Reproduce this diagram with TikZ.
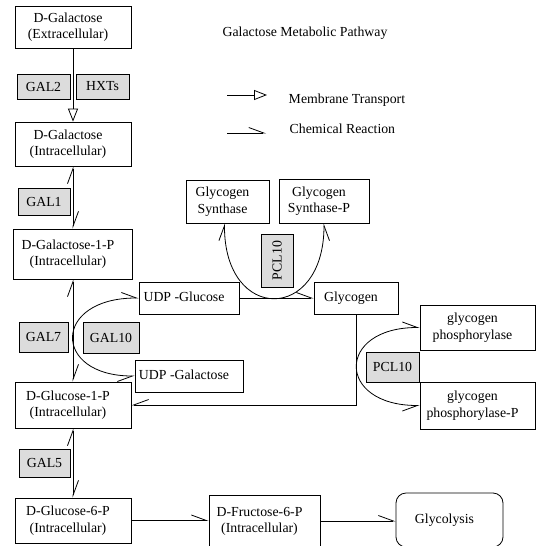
\documentclass[tikz,border=0pt]{standalone}
\usepackage{fontspec}
\setmainfont{Liberation Serif}
\usepackage{tikz}
\usetikzlibrary{arrows.meta,positioning}
\definecolor{enzgray}{HTML}{dcdcdc}
% molecule text, set a little left of the box centre
\newcommand{\molt}[1]{\begin{tabular}{@{}c@{}}#1\end{tabular}\hspace*{10pt}}

\begin{document}
\begin{tikzpicture}[x=1pt, y=1pt, line width=0.8pt,
  font=\fontsize{13.8}{16.5}\selectfont,
  harp/.tip={Straight Barb[harpoon, length=15pt, width=11pt]},
  memb/.tip={Triangle[open, length=13pt, width=10pt]},
  mol/.style={draw, inner sep=0pt},
  enz/.style={draw, fill=enzgray, inner sep=0pt}]
  \useasboundingbox (0,0) rectangle (536,-546);
  % galactose uptake
  \node[mol, minimum width=116pt, minimum height=42pt] (galExt) at (73,-27) {\molt{D-Galactose\\(Extracellular)}};
  \node[enz, minimum width=53pt, minimum height=25pt] (gal2) at (43.5,-86.5) {GAL2};
  \node[enz, minimum width=53pt, minimum height=25pt] (hxts) at (102.5,-86.5) {HXTs};
  \node[mol, minimum width=116pt, minimum height=44pt] (galInt) at (73,-144) {\molt{D-Galactose\\(Intracellular)}};
  \node[enz, minimum width=52pt, minimum height=27pt] (gal1) at (44,-201.5) {GAL1};
  \node[mol, minimum width=119pt, minimum height=50pt] (gal1P) at (73,-254) {\molt{D-Galactose-1-P\\(Intracellular)}};
  \node[enz, minimum width=49pt, minimum height=30pt] (gal7) at (43.5,-337) {GAL7};
  \node[enz, minimum width=56pt, minimum height=31pt] (gal10) at (111,-337.5) {GAL10};
  \node[mol, minimum width=100pt, minimum height=32pt] (udpGlc) at (189,-298) {\molt{UDP -Glucose}};
  \node[mol, minimum width=108pt, minimum height=32pt] (udpGal) at (189,-376) {\molt{UDP -Galactose}};
  \node[mol, minimum width=116pt, minimum height=46pt] (glc1P) at (73,-405) {\molt{D-Glucose-1-P\\(Intracellular)}};
  \node[enz, minimum width=51pt, minimum height=28pt] (gal5) at (44.5,-463) {GAL5};
  \node[mol, minimum width=116pt, minimum height=45pt] (glc6P) at (73,-520.5) {\molt{D-Glucose-6-P\\(Intracellular)}};
  \node[mol, minimum width=111pt, minimum height=52pt] (fru6P) at (264.5,-521) {\molt{D-Fructose-6-P\\(Intracellular)}};
  \node[mol, rounded corners=10pt, minimum width=107pt, minimum height=54pt] (glycolysis) at (449.5,-520) {\molt{Glycolysis}};
  % glycogen branch
  \node[mol, minimum width=83pt, minimum height=43pt] (gsyn) at (227.5,-201.5) {\molt{Glycogen\\Synthase}};
  \node[mol, minimum width=90pt, minimum height=44pt] (gsynP) at (324,-201) {\molt{Glycogen\\Synthase-P}};
  \node[enz, rotate=90, minimum width=53pt, minimum height=32pt] (pclA) at (277,-260.5) {PCL10};
  \node[mol, minimum width=84pt, minimum height=32pt] (glycogen) at (356,-298) {\molt{Glycogen}};
  \node[mol, minimum width=115pt, minimum height=45pt] (gph) at (477.5,-327.5) {\molt{glycogen\\phosphorylase}};
  \node[enz, minimum width=53pt, minimum height=30pt] (pclB) at (392.5,-367) {PCL10};
  \node[mol, minimum width=115pt, minimum height=47pt] (gphP) at (477.5,-405.5) {\molt{glycogen\\phosphorylase-P}};
  % title and legend
  \node (title) at (305,-33) {Galactose Metabolic Pathway};
  \coordinate (membA) at (227,-95);
  \coordinate (membB) at (267,-95);
  \coordinate (chemA) at (227,-133);
  \coordinate (chemB) at (266,-133);
  \node[anchor=west] (membTxt) at (285,-100) {Membrane Transport};
  \node[anchor=west] (chemTxt) at (286,-129) {Chemical Reaction};
  \draw[-memb] (membA) -- (membB);
  \draw[-harp] (chemA) -- (chemB);
  % main chain
  \draw[-memb] (galExt.south) -- (galInt.north);
  \draw[harp-harp] (galInt.south) -- (gal1P.north);
  \draw[harp-harp] (gal1P.south) -- (glc1P.north);
  \draw[harp-harp] (glc1P.south) -- (glc6P.north);
  \draw[-harp] (glc6P.east) -- (glc6P.east -| fru6P.west);
  \draw[-harp] (fru6P.east) -- (fru6P.east -| glycolysis.west);
  % UDP exchange and glycogen
  \draw[harp-{harp[swap]}] (udpGlc.west) .. controls (52,-298) and (52,-376) .. (udpGal.west);
  \draw[-harp] (udpGlc.east) -- (glycogen.west);
  \draw[harp-{harp[swap]}] ([xshift=-3pt]gsyn.south) .. controls (224,-323) and (324,-323) .. (gsynP.south);
  \draw[harp-{harp[swap]}] (gph.west) .. controls (336,-327.5) and (336,-405.5) .. (gphP.west);
  \draw[-{harp[swap]}] (glycogen.south) |- (glc1P.east);
\end{tikzpicture}
\end{document}
